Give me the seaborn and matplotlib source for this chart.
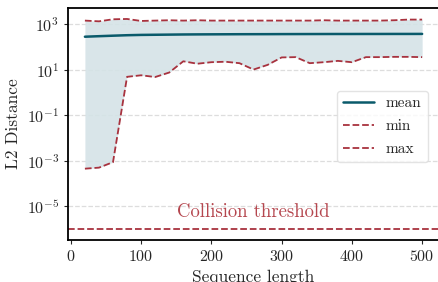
import numpy as np
import pandas as pd
import seaborn as sns
import matplotlib.pyplot as plt

# --- data ---
seq_len = [20, 40, 60, 80, 100, 120, 140, 160, 180, 200, 220, 240, 260,
           280, 300, 320, 340, 360, 380, 400, 420, 440, 460, 480, 500]
mean_dist = [275, 290, 305, 320, 330, 335, 340, 345, 348, 350, 352, 354, 355,
             356, 358, 359, 360, 361, 362, 362, 363, 363, 364, 364, 365]
min_dist = [4.5e-4, 5.0e-4, 8.7e-4, 4.8, 5.6, 4.7, 7.4, 23, 18, 21, 22, 19, 10,
            16, 34, 35, 19, 21, 24, 21, 35, 35, 36, 36, 35]
max_dist = [1400, 1300, 1600, 1650, 1350, 1400, 1450, 1400, 1450, 1400, 1400,
            1400, 1400, 1400, 1400, 1400, 1400, 1450, 1400, 1400, 1400, 1400,
            1450, 1550, 1550]
threshold = 1e-6

df = pd.DataFrame({"len": seq_len, "mean": mean_dist,
                   "min": min_dist, "max": max_dist})

sns.set_style("ticks")
plt.rcParams["font.family"] = ["cmr10", "DejaVu Serif"]
plt.rcParams["mathtext.fontset"] = "cm"
plt.rcParams["axes.formatter.use_mathtext"] = True

teal = "#0a5a6b"
red = "#a8323e"

fig, ax = plt.subplots(figsize=(4.39, 2.82), dpi=100)

ax.fill_between(df["len"], df["min"], df["max"], color="#d5e3e7", alpha=0.9, lw=0)
sns.lineplot(data=df, x="len", y="mean", ax=ax, color=teal, lw=1.8, label="mean")
sns.lineplot(data=df, x="len", y="min", ax=ax, color=red, lw=1.3,
             linestyle="--", label="min")
sns.lineplot(data=df, x="len", y="max", ax=ax, color=red, lw=1.3,
             linestyle="--", label="max")
ax.axhline(threshold, color=red, lw=1.3, linestyle="--")
ax.text(260, 5.5e-6, "Collision threshold", color="#b5474f", fontsize=13.5,
        ha="center", va="center")

ax.set_yscale("log")
ax.set_yticks([1e3, 1e1, 1e-1, 1e-3, 1e-5])
ax.yaxis.set_minor_locator(plt.NullLocator())
ax.set_xticks([0, 100, 200, 300, 400, 500])
ax.tick_params(labelsize=11.5, length=3)
ax.grid(axis="y", color="#dddddd", linestyle="--", lw=0.9)
ax.set_xlabel("Sequence length", fontsize=12.5)
ax.set_ylabel("L2 Distance", fontsize=12.5)
for s in ax.spines.values():
    s.set_linewidth(1.3)
    s.set_color("black")

ax.legend(loc="center right", fontsize=11, handlelength=2.0, labelspacing=0.6,
          frameon=True, edgecolor="#dddddd", bbox_to_anchor=(0.99, 0.49))

fig.subplots_adjust(left=0.155, right=1.0, top=0.97, bottom=0.15)
fig.savefig("out.png", dpi=100)
